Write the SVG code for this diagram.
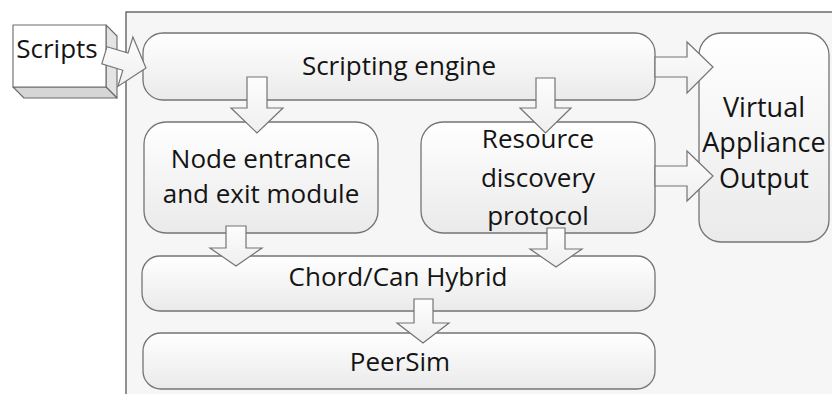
<svg xmlns="http://www.w3.org/2000/svg" width="832" height="394" viewBox="0 0 832 394">
  <defs>
    <linearGradient id="boxFill" x1="0" y1="0" x2="0" y2="1">
      <stop offset="0" stop-color="#ffffff"/>
      <stop offset="1" stop-color="#eaeaea"/>
    </linearGradient>
    <linearGradient id="arrowFill" x1="0" y1="0" x2="0" y2="1">
      <stop offset="0" stop-color="#fdfdfd"/>
      <stop offset="1" stop-color="#efefef"/>
    </linearGradient>
    <style>
      .frame { fill: #f6f6f6; stroke: #4a4a4a; stroke-width: 1.2; }
      .box { fill: url(#boxFill); stroke: #747474; stroke-width: 1.3; }
      .arrow { fill: url(#arrowFill); stroke: #747474; stroke-width: 1.2; stroke-linejoin: miter; }
      .face { fill: #ffffff; stroke: #6a6a6a; stroke-width: 1.1; stroke-linejoin: round; }
      .side { fill: #e4e4e4; stroke: #6a6a6a; stroke-width: 1.1; stroke-linejoin: round; }
      .bottom { fill: #d6d6d6; stroke: #6a6a6a; stroke-width: 1.1; stroke-linejoin: round; }
      .label { font-family: "Open Sans", "Noto Sans", "Liberation Sans", sans-serif; font-size: 26px; fill: #141414; text-anchor: middle; }
      .big { font-size: 27px; }
    </style>
  </defs>

  <rect width="832" height="394" fill="#ffffff"/>

  <!-- system boundary -->
  <rect class="frame" x="126" y="12" width="720" height="400"/>

  <!-- input: 3D block -->
  <g id="scripts">
    <polygon class="side" points="106,25 117,36 117,98 106,87"/>
    <polygon class="bottom" points="13,87 106,87 117,98 24,98"/>
    <rect class="face" x="13" y="25" width="93" height="62"/>
    <text class="label" x="57" y="58">Scripts</text>
  </g>

  <g id="scripting-engine">
    <rect class="box" x="143" y="33" width="512" height="67" rx="20"/>
    <text class="label" x="399" y="75">Scripting engine</text>
  </g>

  <g id="node-module">
    <rect class="box" x="144" y="122" width="234" height="111" rx="22"/>
    <text class="label" x="261" y="168">Node entrance</text>
    <text class="label" x="261" y="203">and exit module</text>
  </g>

  <g id="resource-discovery">
    <rect class="box" x="421" y="122" width="234" height="111" rx="22"/>
    <text class="label" x="538" y="148">Resource</text>
    <text class="label" x="538" y="187">discovery</text>
    <text class="label" x="538" y="225">protocol</text>
  </g>

  <g id="virtual-appliance">
    <rect class="box" x="699" y="33" width="130" height="209" rx="22"/>
    <text class="label big" x="764" y="117">Virtual</text>
    <text class="label big" x="764" y="152">Appliance</text>
    <text class="label big" x="764" y="188">Output</text>
  </g>

  <g id="chord-can">
    <rect class="box" x="142" y="256" width="513" height="55" rx="18"/>
    <text class="label" x="398" y="286">Chord/Can Hybrid</text>
  </g>

  <g id="peersim">
    <rect class="box" x="143" y="333" width="512" height="56" rx="18"/>
    <text class="label" x="400" y="371">PeerSim</text>
  </g>

  <!-- block arrows -->
  <g id="connectors">
    <polygon class="arrow" points="107,46.7 128,53.1 132.9,37 146,68 117.9,86.4 122.8,70.3 101.8,63.9"/>
    <polygon class="arrow" points="247,77 267,77 267,108 283,108 257,133 231,108 247,108"/>
    <polygon class="arrow" points="536,78 555,78 555,108 571,108 545.5,133 520,108 536,108"/>
    <polygon class="arrow" points="655,57 687,57 687,42 713,67 687,93 687,77 655,77"/>
    <polygon class="arrow" points="655,166 687,166 687,151 713,176 687,201 687,186 655,186"/>
    <polygon class="arrow" points="226,226 246,226 246,248 262,248 236,266 210,248 226,248"/>
    <polygon class="arrow" points="547,228 565,228 565,249 582,249 556,267 530,249 547,249"/>
    <polygon class="arrow" points="414,299 433,299 433,323 449,323 423,343 397,323 414,323"/>
  </g>
</svg>
